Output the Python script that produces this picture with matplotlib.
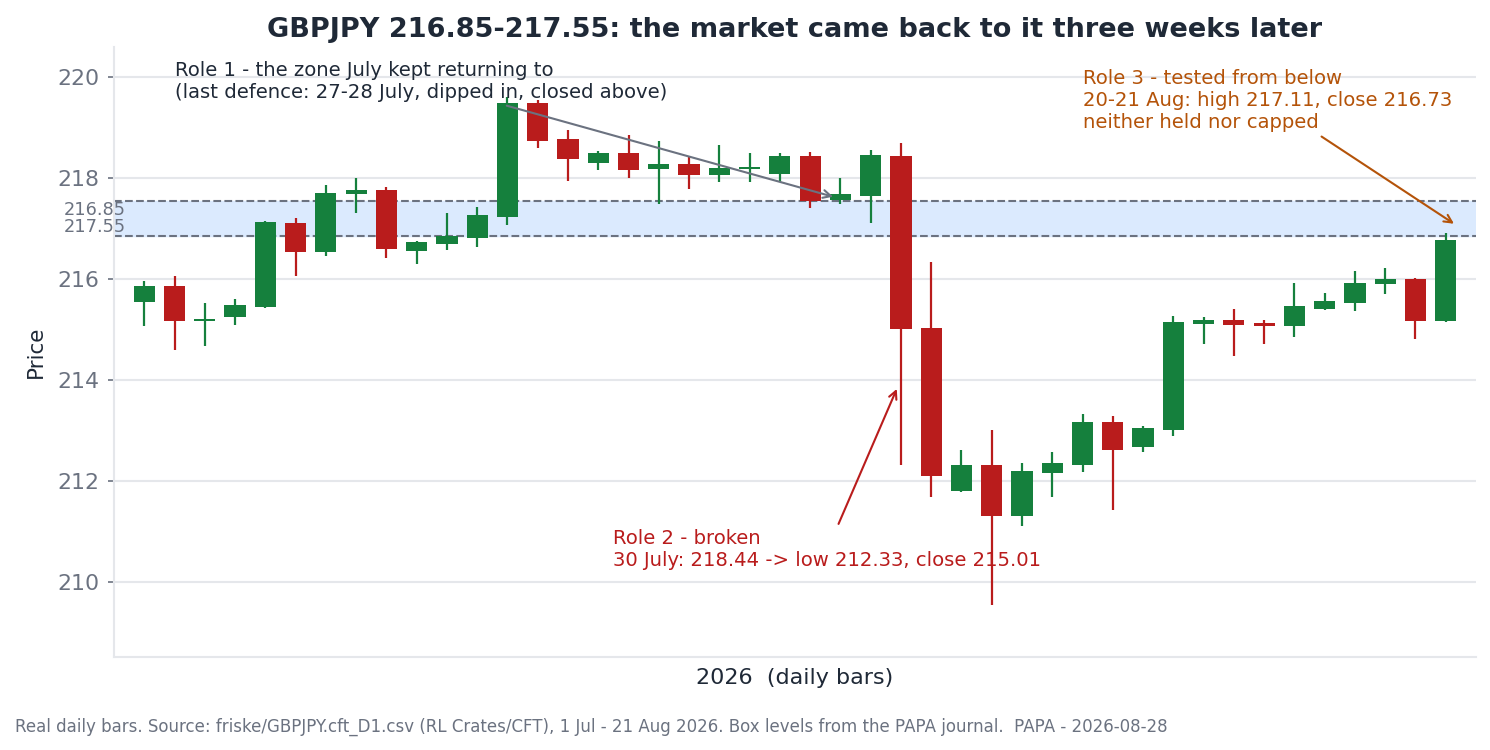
import matplotlib
matplotlib.use("Agg")
import matplotlib.pyplot as plt
import numpy as np

# daily bars GBPJPY, 1 Jul - 21 Aug 2026
opens = [215.55, 215.86, 215.18, 215.25, 215.46, 217.12, 216.55, 217.68, 217.76, 216.56,
         216.70, 216.82, 217.23, 219.49, 218.77, 218.31, 218.50, 218.18, 218.28, 218.07,
         218.18, 218.08, 218.44, 217.57, 217.65, 218.44, 215.03, 211.81, 212.32, 211.31,
         212.17, 212.32, 213.17, 212.68, 213.02, 215.12, 215.19, 215.13, 215.08, 215.41,
         215.53, 215.90, 216.00, 215.17]
highs = [215.96, 216.07, 215.54, 215.60, 217.16, 217.22, 217.86, 218.01, 217.82, 216.76,
         217.32, 217.43, 219.61, 219.56, 218.95, 218.55, 218.85, 218.73, 218.42, 218.65,
         218.50, 218.51, 218.53, 218.00, 218.57, 218.69, 216.35, 212.61, 213.01, 212.36,
         212.57, 213.33, 213.29, 213.09, 215.27, 215.25, 215.41, 215.20, 215.92, 215.72,
         216.17, 216.23, 216.02, 216.91]
lows = [215.08, 214.59, 214.67, 215.10, 215.43, 216.07, 216.47, 217.31, 216.43, 216.31,
        216.59, 216.64, 217.08, 218.61, 217.95, 218.17, 218.01, 217.50, 217.79, 217.93,
        217.93, 217.93, 217.41, 217.49, 217.11, 212.33, 211.68, 211.79, 209.55, 211.12,
        211.68, 212.18, 211.44, 212.58, 212.90, 214.72, 214.49, 214.72, 214.85, 215.40,
        215.38, 215.70, 214.81, 215.15]
closes = [215.86, 215.17, 215.22, 215.49, 217.13, 216.54, 217.70, 217.76, 216.60, 216.73,
          216.86, 217.27, 219.49, 218.74, 218.38, 218.50, 218.17, 218.28, 218.07, 218.20,
          218.22, 218.44, 217.56, 217.68, 218.46, 215.01, 212.11, 212.32, 211.31, 212.20,
          212.36, 213.17, 212.62, 213.05, 215.15, 215.19, 215.09, 215.08, 215.47, 215.57,
          215.92, 216.00, 215.17, 216.77]

zone_lo, zone_hi = 216.85, 217.55

GREEN = "#15803d"
RED = "#b91c1c"
ORANGE = "#b45309"
GRAY = "#6b7280"
DARK = "#1f2937"

o = np.array(opens)
h = np.array(highs)
l = np.array(lows)
c = np.array(closes)
x = np.arange(len(o))
up = c >= o
cols = np.where(up, GREEN, RED)

fig = plt.figure(figsize=(14.9, 7.5), dpi=100)
ax = fig.add_axes([0.0765, 0.124, 0.9141, 0.8133])

# zone
ax.axhspan(zone_lo, zone_hi, color="#dbeafe", zorder=0)
ax.axhline(zone_lo, color=GRAY, ls="--", lw=1.5, zorder=1)
ax.axhline(zone_hi, color=GRAY, ls="--", lw=1.5, zorder=1)

# candles
ax.vlines(x, l, h, colors=cols, lw=1.6, zorder=2)
ax.bar(x, np.abs(c - o), bottom=np.minimum(o, c), width=0.7, color=cols, zorder=3)

ax.set_xlim(-1, len(o))
ax.set_ylim(208.52, 220.6)
ax.set_yticks(np.arange(210, 221, 2))
ax.set_xticks([])
ax.grid(axis="y", color="#e5e7eb", lw=1.5, zorder=0)
ax.set_axisbelow(True)
for s in ["top", "right"]:
    ax.spines[s].set_visible(False)
for s in ["left", "bottom"]:
    ax.spines[s].set_color("#e5e7eb")
    ax.spines[s].set_linewidth(1.5)
ax.tick_params(axis="y", colors=GRAY, labelsize=15.8, length=4.5, width=1.2, pad=6)

ax.set_ylabel("Price", fontsize=15.5, color=DARK, labelpad=8)
ax.set_xlabel("2026  (daily bars)", fontsize=16, color=DARK, labelpad=8)
ax.set_title("GBPJPY 216.85-217.55: the market came back to it three weeks later",
             fontsize=19.5, fontweight="bold", color=DARK, pad=7)

# zone labels at the left edge
tr = ax.get_yaxis_transform()
ax.text(-0.0367, zone_hi, "216.85", transform=tr, ha="left", va="top", fontsize=12.8, color=GRAY)
ax.text(-0.0367, zone_lo, "217.55", transform=tr, ha="left", va="bottom", fontsize=12.8, color=GRAY)

# annotations
ax.annotate("Role 1 - the zone July kept returning to\n(last defence: 27-28 July, dipped in, closed above)",
            xy=(22.85, 217.62), xytext=(1.0, 220.32), ha="left", va="top",
            fontsize=14.1, color=DARK,
            arrowprops=dict(arrowstyle="->", color=GRAY, lw=1.5))
ax.annotate("Role 2 - broken\n30 July: 218.44 -> low 212.33, close 215.01",
            xy=(24.9, 213.88), xytext=(15.5, 211.05), ha="left", va="top",
            fontsize=14.1, color=RED,
            arrowprops=dict(arrowstyle="->", color=RED, lw=1.5))
ax.annotate("Role 3 - tested from below\n20-21 Aug: high 217.11, close 216.73\nneither held nor capped",
            xy=(43.35, 217.07), xytext=(31.0, 220.16), ha="left", va="top",
            fontsize=14.1, color=ORANGE,
            arrowprops=dict(arrowstyle="->", color=ORANGE, lw=1.5))

fig.text(0.01, 0.031,
         "Real daily bars. Source: friske/GBPJPY.cft_D1.csv (RL Crates/CFT), 1 Jul - 21 Aug 2026. "
         "Box levels from the PAPA journal.  PAPA - 2026-08-28",
         fontsize=12, color=GRAY, ha="left", va="center")

fig.savefig("out.png", dpi=100)
